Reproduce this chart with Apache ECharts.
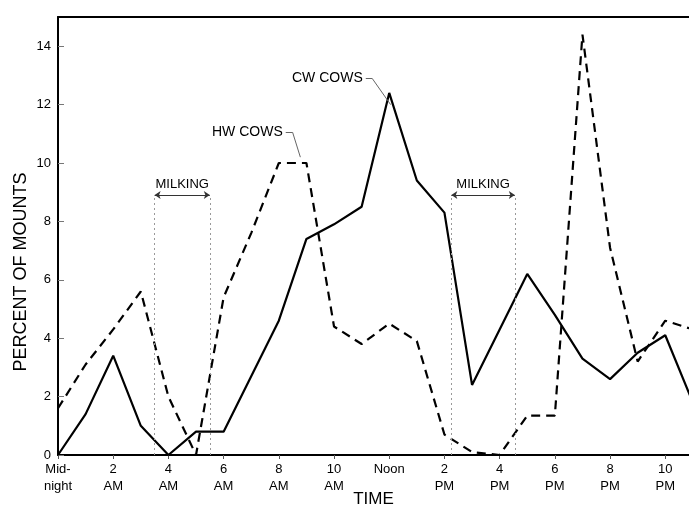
<!DOCTYPE html>
<html>
<head>
<meta charset="utf-8">
<script src="https://cdn.jsdelivr.net/npm/echarts@6/dist/echarts.min.js"></script>
<style>
  html, body { margin: 0; padding: 0; background: #fff; }
  #chart { width: 689px; height: 508px; }
</style>
</head>
<body>
<div id="chart"></div>
<script>
// hours after midnight
var hours = [0, 1, 2, 3, 4, 5, 6, 7, 8, 9, 10, 11, 12, 13, 14, 15, 16, 17, 18, 19, 20, 21, 22, 23];
// percent of mounts
var cwCows = [0, 1.4, 3.4, 1.0, 0, 0.8, 0.8, 2.7, 4.6, 7.4, 7.9, 8.5, 12.4, 9.4, 8.3, 2.4, 4.3, 6.2, 4.8, 3.3, 2.6, 3.5, 4.1, 1.8];
var hwCows = [1.6, 3.1, 4.3, 5.6, 2.0, 0, 5.4, 7.6, 10.0, 10.0, 4.4, 3.8, 4.5, 3.9, 0.7, 0.1, 0, 1.35, 1.35, 14.4, 7.1, 3.2, 4.6, 4.3];

var xTicks = [0, 2, 4, 6, 8, 10, 12, 14, 16, 18, 20, 22];
var xTickLabels = ['Mid-\nnight', '2\nAM', '4\nAM', '6\nAM', '8\nAM', '10\nAM', 'Noon', '2\nPM', '4\nPM', '6\nPM', '8\nPM', '10\nPM'];
var yTicks = [0, 2, 4, 6, 8, 10, 12, 14];

// milking periods [start hour, end hour], bracket height
var milkingPeriods = [[3.5, 5.5], [14.25, 16.55]];
var milkingLevel = 8.9;

// series labels: text anchor and leader line (elbow, end)
var hwLabel = { text: 'HW COWS', at: [8.25, 11.05], elbow: [8.5, 11.05], end: [8.78, 10.2] };
var cwLabel = { text: 'CW COWS', at: [11.15, 12.9], elbow: [11.38, 12.9], end: [12.05, 12.0] };

var FONT = '"Liberation Sans", Arial, sans-serif';

function pairs(xs, ys) {
	var out = [];
	for (var i = 0; i < xs.length; i++) {
		out.push([xs[i], ys[i]]);
	}
	return out;
}

function leader(lbl) {
	return [
		[{ coord: lbl.at }, { coord: lbl.elbow }],
		[{ coord: lbl.elbow }, { coord: lbl.end }]
	];
}

function labelPoint(lbl) {
	return {
		coord: lbl.at,
		symbol: 'circle',
		symbolSize: 0,
		label: {
			show: true,
			formatter: lbl.text,
			position: 'left',
			distance: 3,
			color: '#000',
			fontSize: 14,
			fontFamily: FONT
		}
	};
}

// milking brackets: dotted verticals + double arrow with text
var milkingLines = [];
milkingPeriods.forEach(function (p) {
	milkingLines.push([
		{ coord: [p[0], 0], lineStyle: { type: [2, 3], color: '#999', width: 1 } },
		{ coord: [p[0], milkingLevel] }
	]);
	milkingLines.push([
		{ coord: [p[1], 0], lineStyle: { type: [2, 3], color: '#999', width: 1 } },
		{ coord: [p[1], milkingLevel] }
	]);
	milkingLines.push([
		{
			coord: [p[0], milkingLevel], symbol: 'arrow', symbolSize: 6,
			lineStyle: { type: 'solid', color: '#333', width: 1 },
			label: {
				show: true, formatter: 'MILKING', position: 'insideMiddleTop',
				distance: 4, color: '#000', fontSize: 13, fontFamily: FONT
			}
		},
		{ coord: [p[1], milkingLevel], symbol: 'arrow', symbolSize: 6 }
	]);
});

var chart = echarts.init(document.getElementById('chart'));

var option = {
	animation: false,
	backgroundColor: '#fff',
	grid: { left: 58, right: 0, top: 17, bottom: 53, outerBoundsMode: 'none', containLabel: false },
	xAxis: [{
		type: 'value',
		min: 0,
		max: 22.86,
		position: 'bottom',
		name: 'TIME',
		nameLocation: 'middle',
		nameGap: 36,
		nameMoveOverlap: false,
		nameTextStyle: { color: '#000', fontSize: 17, fontFamily: FONT },
		axisLine: { lineStyle: { color: '#000', width: 2 } },
		axisTick: { show: true, customValues: xTicks, length: 4, lineStyle: { color: '#555' } },
		axisLabel: {
			customValues: xTicks,
			margin: 6,
			color: '#000',
			fontSize: 13,
			lineHeight: 17,
			fontFamily: FONT,
			formatter: function (v) {
				var i = xTicks.indexOf(v);
				return i < 0 ? '' : xTickLabels[i];
			}
		},
		splitLine: { show: false }
	}, {
		type: 'value',
		min: 0,
		max: 22.86,
		position: 'top',
		axisLine: { show: true, lineStyle: { color: '#000', width: 2 } },
		axisTick: { show: false },
		axisLabel: { show: false },
		splitLine: { show: false }
	}],
	yAxis: {
		type: 'value',
		min: 0,
		max: 15,
		name: 'PERCENT OF MOUNTS',
		nameLocation: 'middle',
		nameGap: 28,
		nameMoveOverlap: false,
		nameTextStyle: { color: '#000', fontSize: 18, fontFamily: FONT, padding: [0, 0, 0, -72] },
		axisLine: { show: true, lineStyle: { color: '#000', width: 2 } },
		axisTick: { show: true, inside: true, customValues: yTicks, length: 6, lineStyle: { color: '#777' } },
		axisLabel: {
			customValues: yTicks,
			margin: 7,
			color: '#000',
			fontSize: 13,
			fontFamily: FONT
		},
		splitLine: { show: false }
	},
	series: [{
		name: 'CW COWS',
		type: 'line',
		data: pairs(hours, cwCows),
		symbol: 'none',
		clip: true,
		lineStyle: { color: '#000', width: 2.2 },
		z: 3,
		markLine: {
			silent: true,
			symbol: 'none',
			animation: false,
			label: { show: false },
			lineStyle: { color: '#666', width: 1, type: 'solid' },
			data: leader(cwLabel).concat(leader(hwLabel)).concat(milkingLines)
		},
		markPoint: {
			silent: true,
			animation: false,
			data: [labelPoint(cwLabel), labelPoint(hwLabel)]
		}
	}, {
		name: 'HW COWS',
		type: 'line',
		data: pairs(hours, hwCows),
		symbol: 'none',
		clip: true,
		lineStyle: { color: '#000', width: 2.2, type: [9, 6] },
		z: 3
	}]
};

chart.setOption(option);
</script>
</body>
</html>
